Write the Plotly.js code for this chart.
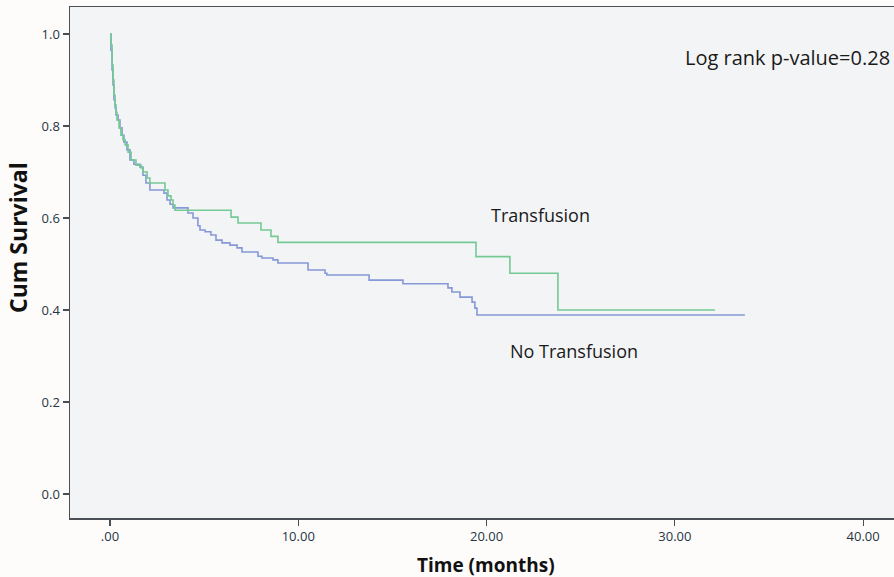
<!DOCTYPE html>
<html>
<head>
<meta charset="utf-8">
<script src="https://cdn.plot.ly/plotly-3.0.1.min.js"></script>
<style>html,body{margin:0;padding:0;background:#fdfcfb;}#chart{width:894px;height:577px;}</style>
</head>
<body>
<div id="chart"></div>
<script>
// No Transfusion (step times in months, survival after step)
const noTransTime = [0, 0.05, 0.11, 0.16, 0.21, 0.27, 0.32, 0.43, 0.53, 0.64, 0.74, 0.90, 1.06, 1.27, 1.59, 1.75, 1.91, 2.12, 2.87, 3.03, 3.19, 3.35, 4.14, 4.41, 4.67, 4.78, 5.05, 5.36, 5.63, 5.95, 6.37, 6.75, 7.01, 7.86, 8.07, 8.66, 8.92, 10.52, 11.42, 11.52, 13.76, 15.56, 17.95, 18.16, 18.59, 19.23, 19.38, 19.49, 33.72];
const noTransSurv = [1.0, 0.965, 0.922, 0.889, 0.857, 0.839, 0.824, 0.813, 0.796, 0.780, 0.765, 0.748, 0.726, 0.717, 0.711, 0.693, 0.676, 0.661, 0.654, 0.639, 0.630, 0.622, 0.611, 0.600, 0.583, 0.574, 0.570, 0.563, 0.552, 0.546, 0.541, 0.535, 0.526, 0.517, 0.513, 0.509, 0.502, 0.487, 0.480, 0.476, 0.465, 0.457, 0.448, 0.439, 0.428, 0.417, 0.404, 0.389, 0.389];

// Transfusion
const transTime = [0, 0.05, 0.11, 0.16, 0.21, 0.27, 0.32, 0.37, 0.48, 0.58, 0.69, 0.80, 0.96, 1.12, 1.38, 1.65, 1.75, 1.97, 2.12, 2.92, 3.08, 3.24, 3.35, 3.45, 6.43, 6.80, 8.02, 8.55, 8.92, 19.44, 21.24, 23.79, 32.13];
const transSurv = [1.0, 0.976, 0.933, 0.900, 0.867, 0.846, 0.830, 0.813, 0.796, 0.780, 0.770, 0.759, 0.743, 0.726, 0.715, 0.709, 0.700, 0.687, 0.676, 0.661, 0.648, 0.639, 0.628, 0.617, 0.602, 0.589, 0.574, 0.560, 0.547, 0.516, 0.480, 0.400, 0.400];

const xTickVals = [0, 10, 20, 30, 40];
const xTickText = ['.00', '10.00', '20.00', '30.00', '40.00'];
const yTickVals = [0, 0.2, 0.4, 0.6, 0.8, 1.0];
const yTickText = ['0.0', '0.2', '0.4', '0.6', '0.8', '1.0'];

const traces = [
  {x: noTransTime, y: noTransSurv, type: 'scatter', mode: 'lines', line: {shape: 'hv', color: '#8698d8', width: 1.6}, name: 'No Transfusion', hoverinfo: 'skip'},
  {x: transTime, y: transSurv, type: 'scatter', mode: 'lines', line: {shape: 'hv', color: '#74c994', width: 1.6}, name: 'Transfusion', hoverinfo: 'skip'}
];

const FF = 'Open Sans, DejaVu Sans, sans-serif';
const tickFont = {family: FF, size: 13, color: '#263544'};
const layout = {
  width: 894, height: 577,
  margin: {l: 70, r: 0, t: 7, b: 59},
  paper_bgcolor: '#fdfcfb',
  plot_bgcolor: '#f3f4f6',
  showlegend: false,
  xaxis: {
    range: [-2.124, 41.64], tickvals: xTickVals, ticktext: xTickText,
    showgrid: false, zeroline: false, showline: true, linecolor: '#4a4f55', linewidth: 1.5, mirror: true,
    ticks: 'outside', ticklen: 6, tickcolor: '#4a4f55', tickwidth: 1.2, tickfont: tickFont
  },
  yaxis: {
    range: [-0.0522, 1.0587], tickvals: yTickVals, ticktext: yTickText,
    showgrid: false, zeroline: false, showline: true, linecolor: '#4a4f55', linewidth: 1.5,
    ticks: 'outside', ticklen: 6, tickcolor: '#4a4f55', tickwidth: 1.2, tickfont: tickFont
  },
  annotations: [
    {x: 0.505, y: -0.092, xref: 'paper', yref: 'paper', xanchor: 'center', yanchor: 'middle', showarrow: false, text: '<b>Time (months)</b>', font: {family: FF, size: 19, color: '#111'}},
    {x: -0.0631, y: 0.548, xref: 'paper', yref: 'paper', xanchor: 'center', yanchor: 'middle', textangle: -90, showarrow: false, text: '<b>Cum Survival</b>', font: {family: FF, size: 23, color: '#111'}},
    {x: 30.43, y: 0.95, xref: 'x', yref: 'y', xanchor: 'left', yanchor: 'middle', showarrow: false, text: 'Log rank p-value=0.28', font: {family: FF, size: 20, color: '#1a1a1a'}},
    {x: 20.13, y: 0.607, xref: 'x', yref: 'y', xanchor: 'left', yanchor: 'middle', showarrow: false, text: 'Transfusion', font: {family: FF, size: 18, color: '#1a1a1a'}},
    {x: 21.14, y: 0.311, xref: 'x', yref: 'y', xanchor: 'left', yanchor: 'middle', showarrow: false, text: 'No Transfusion', font: {family: FF, size: 18, color: '#1a1a1a'}}
  ]
};

Plotly.newPlot('chart', traces, layout, {displayModeBar: false, staticPlot: true});
</script>
</body>
</html>
